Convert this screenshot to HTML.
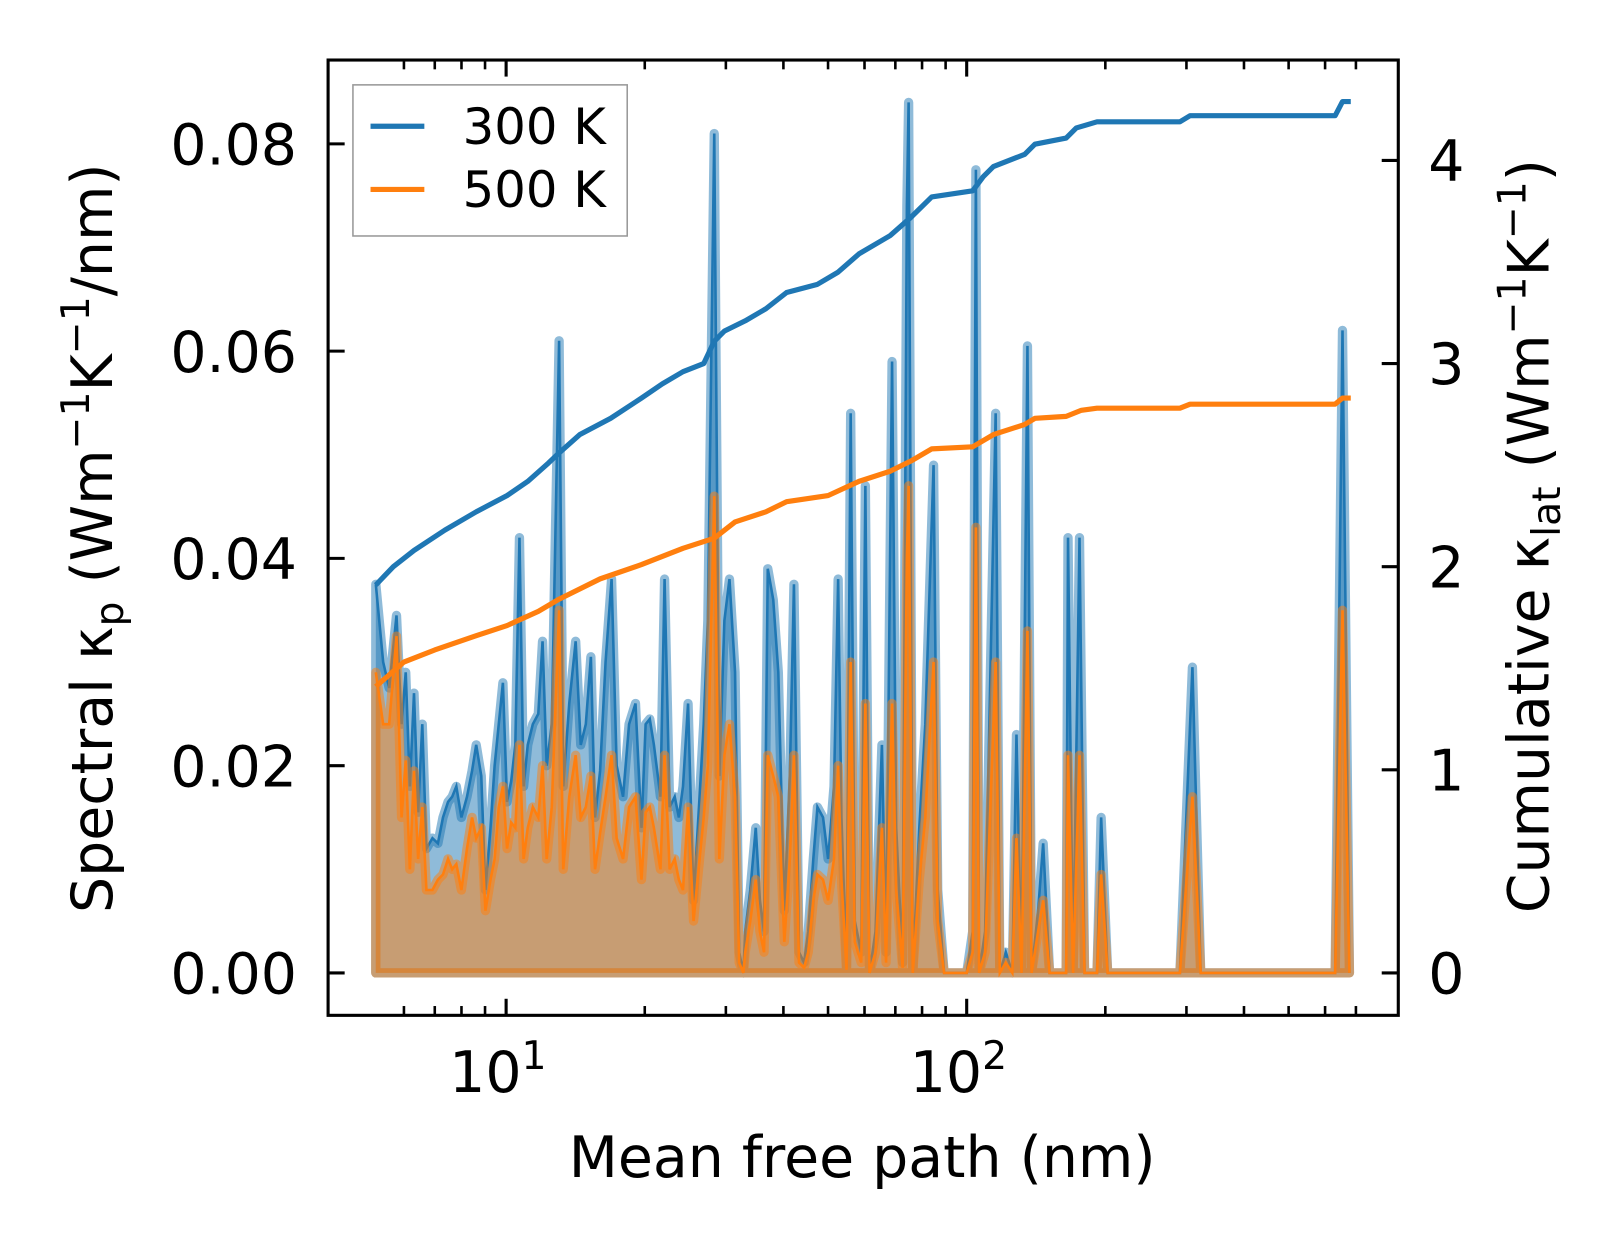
<!DOCTYPE html>
<html><head><meta charset="utf-8"><style>
html,body{margin:0;padding:0;background:#fff;overflow:hidden;}
svg text{font-family:"DejaVu Sans","Liberation Sans",sans-serif;fill:#000;}
</style></head><body>
<svg id="chart" width="1623" height="1254" viewBox="0 0 1623 1254" xmlns="http://www.w3.org/2000/svg">
<g id="root" transform="scale(1.035)">
<g id="plot"></g>
<g id="axes"></g>
<text x="833" y="1137" font-size="55" text-anchor="middle">Mean free path (nm)</text>
<text transform="translate(108,520) rotate(-90)" font-size="55" text-anchor="middle">Spectral κ<tspan font-size="38" dy="11">p</tspan><tspan dy="-11"> (Wm</tspan><tspan font-size="38" dy="-22">−1</tspan><tspan dy="22">K</tspan><tspan font-size="38" dy="-22">−1</tspan><tspan dy="22">/nm)</tspan></text>
<text transform="translate(1496,518) rotate(-90)" font-size="55" text-anchor="middle">Cumulative κ<tspan font-size="38" dy="11">lat</tspan><tspan dy="-11"> (Wm</tspan><tspan font-size="38" dy="-22">−1</tspan><tspan dy="22">K</tspan><tspan font-size="38" dy="-22">−1</tspan><tspan dy="22">)</tspan></text>
<g>
<rect x="341" y="82" width="265" height="146" fill="#fff" fill-opacity="0.8" stroke="#999" stroke-width="1.5"/>
<line x1="358" x2="410" y1="122" y2="122" stroke="#1f77b4" stroke-width="5"/>
<text x="447" y="139" font-size="48">300 K</text>
<line x1="358" x2="410" y1="183" y2="183" stroke="#ff7f0e" stroke-width="5"/>
<text x="447" y="200" font-size="48">500 K</text>
</g>
</g>
</svg>
<script>
// ---- data ----
const logMfp = [0.717,0.733,0.746,0.762,0.773,0.782,0.791,0.800,0.809,0.818,0.827,0.840,0.852,0.863,0.874,0.883,0.892,0.903,0.915,0.926,0.935,0.946,0.955,0.966,0.975,0.984,0.993,1.002,1.011,1.020,1.029,1.038,1.047,1.058,1.070,1.079,1.088,1.099,1.115,1.124,1.137,1.151,1.162,1.173,1.184,1.193,1.204,1.216,1.229,1.240,1.254,1.267,1.281,1.294,1.303,1.312,1.321,1.335,1.344,1.355,1.366,1.375,1.384,1.395,1.407,1.420,1.429,1.438,1.452,1.463,1.474,1.485,1.497,1.506,1.515,1.519,1.530,1.542,1.551,1.560,1.568,1.580,1.591,1.604,1.616,1.625,1.636,1.647,1.656,1.667,1.676,1.688,1.699,1.712,1.721,1.728,1.739,1.748,1.757,1.771,1.780,1.789,1.802,1.816,1.825,1.838,1.847,1.861,1.870,1.874,1.883,1.897,1.910,1.928,1.937,1.951,2.000,2.013,2.020,2.027,2.040,2.063,2.072,2.085,2.099,2.108,2.119,2.132,2.141,2.155,2.166,2.180,2.216,2.220,2.231,2.245,2.256,2.283,2.292,2.306,2.463,2.490,2.508,2.800,2.816,2.831];
const spec300 = [0.0375,0.030,0.0275,0.0345,0.024,0.029,0.018,0.027,0.0155,0.024,0.012,0.013,0.0125,0.015,0.0165,0.017,0.018,0.015,0.017,0.0195,0.022,0.019,0.008,0.014,0.020,0.024,0.028,0.0165,0.0185,0.022,0.042,0.018,0.022,0.024,0.025,0.032,0.020,0.024,0.061,0.018,0.026,0.032,0.022,0.024,0.0305,0.015,0.0195,0.030,0.038,0.020,0.017,0.024,0.026,0.014,0.024,0.0245,0.022,0.017,0.038,0.016,0.017,0.015,0.018,0.026,0.007,0.017,0.024,0.034,0.081,0.019,0.034,0.038,0.029,0.002,0.0,0.004,0.008,0.014,0.007,0.004,0.039,0.036,0.029,0.006,0.019,0.0375,0.002,0.001,0.004,0.011,0.016,0.015,0.011,0.018,0.038,0.015,0.0005,0.054,0.005,0.002,0.047,0.0,0.004,0.022,0.002,0.059,0.014,0.001,0.074,0.084,0.0,0.014,0.024,0.049,0.008,0.0,0.0,0.004,0.0775,0.0,0.004,0.054,0.0,0.002,0.0,0.023,0.0,0.0605,0.0,0.006,0.0125,0.0,0.0,0.042,0.0,0.042,0.0,0.0,0.015,0.0,0.0,0.0295,0.0,0.0,0.062,0.0];
const spec500 = [0.029,0.024,0.024,0.0325,0.015,0.0205,0.010,0.0195,0.011,0.016,0.008,0.008,0.009,0.0095,0.011,0.010,0.0105,0.008,0.012,0.015,0.013,0.014,0.006,0.009,0.011,0.016,0.018,0.012,0.0145,0.014,0.022,0.011,0.014,0.016,0.015,0.020,0.011,0.016,0.035,0.010,0.017,0.021,0.015,0.016,0.019,0.010,0.0135,0.017,0.021,0.013,0.011,0.016,0.017,0.009,0.0155,0.016,0.014,0.010,0.021,0.010,0.011,0.009,0.008,0.016,0.005,0.011,0.015,0.020,0.046,0.011,0.021,0.024,0.017,0.001,0.0,0.002,0.005,0.009,0.004,0.002,0.021,0.019,0.017,0.003,0.011,0.021,0.001,0.0005,0.002,0.007,0.0095,0.009,0.007,0.011,0.020,0.009,0.0003,0.030,0.003,0.001,0.026,0.0,0.002,0.014,0.001,0.026,0.008,0.0005,0.040,0.047,0.0,0.009,0.015,0.030,0.005,0.0,0.0,0.002,0.043,0.0,0.002,0.030,0.0,0.001,0.0,0.013,0.0,0.033,0.0,0.004,0.007,0.0,0.0,0.021,0.0,0.021,0.0,0.0,0.0095,0.0,0.0,0.017,0.0,0.0,0.035,0.0];
const cumLog300 = [0.717,0.755,0.800,0.867,0.935,1.002,1.047,1.092,1.115,1.160,1.227,1.294,1.339,1.384,1.429,1.452,1.474,1.519,1.564,1.609,1.676,1.721,1.766,1.834,1.879,1.924,2.013,2.036,2.058,2.126,2.148,2.216,2.238,2.283,2.463,2.485,2.800,2.816,2.834];
const cum300 = [1.91,2.00,2.08,2.18,2.27,2.35,2.42,2.51,2.56,2.65,2.73,2.83,2.90,2.96,3.00,3.11,3.16,3.21,3.27,3.35,3.39,3.45,3.54,3.63,3.72,3.82,3.85,3.92,3.97,4.03,4.08,4.11,4.16,4.19,4.19,4.22,4.22,4.29,4.29];
const cumLog500 = [0.717,0.778,0.845,0.935,1.002,1.070,1.115,1.204,1.294,1.384,1.452,1.497,1.564,1.609,1.699,1.766,1.834,1.879,1.924,2.013,2.058,2.126,2.148,2.216,2.249,2.283,2.463,2.485,2.800,2.816,2.834];
const cum500 = [1.41,1.53,1.59,1.66,1.71,1.78,1.84,1.94,2.01,2.09,2.14,2.22,2.27,2.32,2.35,2.42,2.47,2.52,2.58,2.59,2.65,2.70,2.73,2.74,2.77,2.78,2.78,2.80,2.80,2.83,2.83];
const leftTicks = [0,0.02,0.04,0.06,0.08];
const leftTickLabels = ["0.00","0.02","0.04","0.06","0.08"];
const rightTicks = [0,1,2,3,4];
const majorX = [1,2];
const minorX = [6,7,8,9,20,30,40,50,60,70,80,90,200,300,400,500,600,700];

// ---- scales ----
const L=317,R=1351,T=58,B=981;
const xs = lg => 489 + (lg-1)*445;
const yl = v => 940 - v/0.02*200.25;
const yr = v => 940 - v*196.25;
const NS="http://www.w3.org/2000/svg";
function mk(tag, attrs, parent){const e=document.createElementNS(NS,tag);for(const k in attrs)e.setAttribute(k,attrs[k]);parent.appendChild(e);return e;}
const plot=document.getElementById('plot'), axes=document.getElementById('axes');

function areaPath(vals){
  let d=`M${xs(logMfp[0])},${yl(0)}`;
  vals.forEach((v,i)=>{d+=` L${xs(logMfp[i]).toFixed(1)},${yl(v).toFixed(1)}`;});
  d+=` L${xs(logMfp[logMfp.length-1])},${yl(0)} Z`;
  return d;
}
function linePath(xsArr, ys, yf){return xsArr.map((x,i)=>(i?'L':'M')+xs(x).toFixed(1)+','+yf(ys[i]).toFixed(1)).join(' ');}

const a3=mk('path',{d:areaPath(spec300),fill:'rgba(31,119,180,0.5)',stroke:'rgba(31,119,180,0.5)','stroke-width':9,'stroke-linejoin':'round'},plot);


const l3=mk('path',{d:linePath(logMfp,spec300,yl),fill:'none',stroke:'#1f77b4','stroke-width':2.5},plot);


const a5=mk('path',{d:areaPath(spec500),fill:'rgba(255,127,14,0.5)',stroke:'rgba(255,127,14,0.5)','stroke-width':9,'stroke-linejoin':'round'},plot);


const l5=mk('path',{d:linePath(logMfp,spec500,yl),fill:'none',stroke:'#ff7f0e','stroke-width':2.5},plot);


const c3=mk('path',{d:linePath(cumLog300,cum300,yr),fill:'none',stroke:'#1f77b4','stroke-width':5,'stroke-linejoin':'round'},plot);


const c5=mk('path',{d:linePath(cumLog500,cum500,yr),fill:'none',stroke:'#ff7f0e','stroke-width':5,'stroke-linejoin':'round'},plot);



const fr=mk('rect',{x:L,y:T,width:R-L,height:B-T,fill:'none',stroke:'#000','stroke-width':3},axes);


leftTicks.forEach((v,i)=>{
  const t=mk('line',{x1:L,x2:L+16,y1:yl(v),y2:yl(v),stroke:'#000','stroke-width':3},axes);
  
  
  const tx=mk('text',{x:287,y:yl(v)+20,'font-size':55,'text-anchor':'end'},axes);
  tx.textContent=leftTickLabels[i];
  
  
});
rightTicks.forEach(v=>{
  const t=mk('line',{x1:R-16,x2:R,y1:yr(v),y2:yr(v),stroke:'#000','stroke-width':3},axes);
  
  
  const tx=mk('text',{x:1380,y:yr(v)+20,'font-size':55},axes);
  tx.textContent=String(v);
  
  
});
majorX.forEach(p=>{
  const x=xs(p);
  [[B,B-16],[T,T+16]].forEach(([a,b])=>{
    const t=mk('line',{x1:x,x2:x,y1:a,y2:b,stroke:'#000','stroke-width':3},axes);
    
    
  });
  const tx=mk('text',{x:x-8,y:1055,'font-size':55,'text-anchor':'middle'},axes);
  
  
  tx.textContent='10';
  const sp=mk('tspan',{dy:-22,'font-size':38},tx);
  sp.textContent=String(p);
});
minorX.forEach(v=>{
  const x=xs(Math.log10(v));
  [[B,B-9],[T,T+9]].forEach(([a,b])=>{
    const t=mk('line',{x1:x,x2:x,y1:a,y2:b,stroke:'#000','stroke-width':2.5},axes);
    
    
  });
});
</script>
</body></html>
